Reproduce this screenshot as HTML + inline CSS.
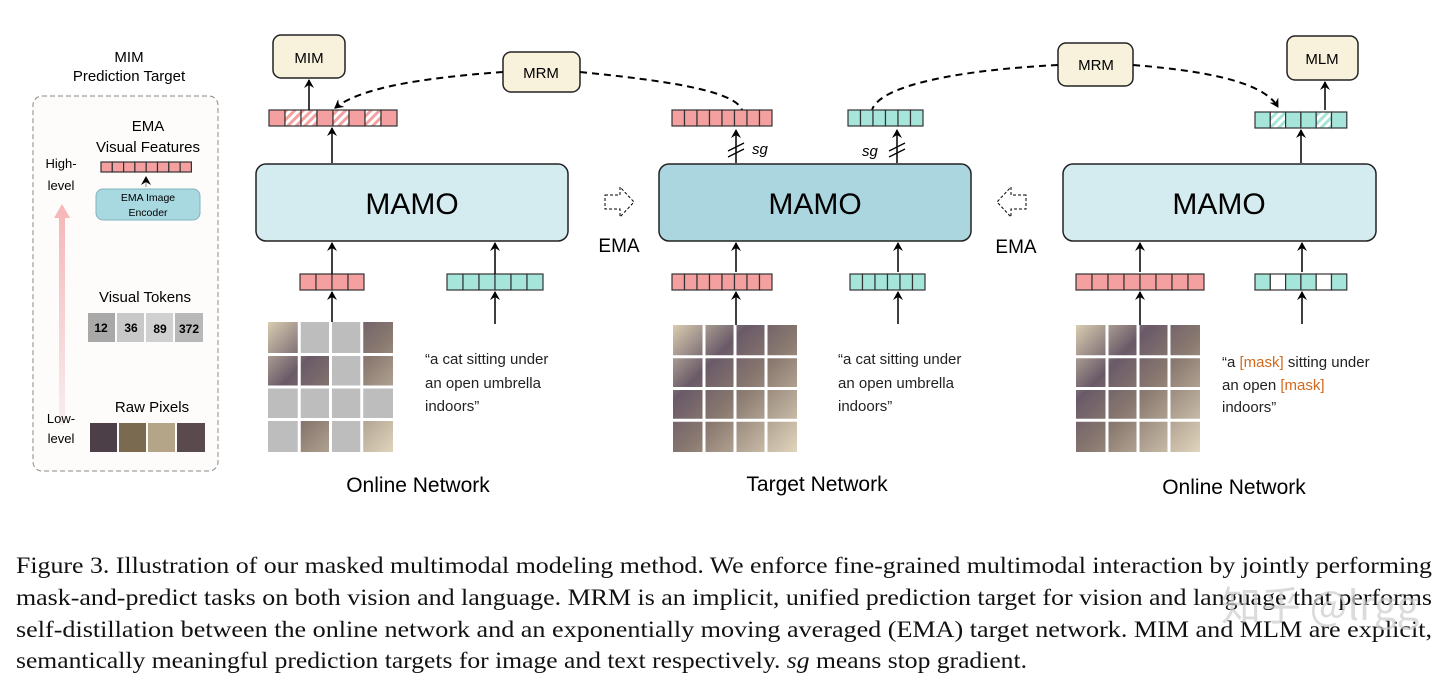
<!DOCTYPE html>
<html><head><meta charset="utf-8"><style>
html,body{margin:0;padding:0;background:#fff;}
svg{display:block;}
.s{font-family:"Liberation Sans",sans-serif;}
.cap{font-family:"Liberation Serif",serif;font-size:23px;fill:#111;}
</style></head><body>
<svg id="g" width="1440" height="682" viewBox="0 0 1440 682" xmlns="http://www.w3.org/2000/svg">
<defs>
<marker id="ah" markerWidth="10" markerHeight="10" refX="8" refY="5" orient="auto" markerUnits="userSpaceOnUse"><path d="M0,0 L9,5 L0,10 L3,5 z" fill="#000"/></marker>
<linearGradient id="up" x1="0" y1="1" x2="0" y2="0"><stop offset="0" stop-color="#f7eef0"/><stop offset="1" stop-color="#f6b8b8"/></linearGradient>
<pattern id="hat" width="6" height="6" patternUnits="userSpaceOnUse" patternTransform="rotate(45)"><rect width="6" height="6" fill="#f4a0a0"/><rect width="3" height="6" fill="#fff"/></pattern>
<pattern id="hat2" width="6" height="6" patternUnits="userSpaceOnUse" patternTransform="rotate(45)"><rect width="6" height="6" fill="#a6e6da"/><rect width="3" height="6" fill="#fff"/></pattern>
<linearGradient id="img" x1="0" y1="0" x2="1" y2="1"><stop offset="0" stop-color="#d8ccb0"/><stop offset="0.3" stop-color="#6a5a68"/><stop offset="0.55" stop-color="#8a7a70"/><stop offset="1" stop-color="#e0d4bc"/></linearGradient>
</defs>

<text class="s" x="129" y="62" font-size="15" text-anchor="middle">MIM</text>
<text class="s" x="129" y="81" font-size="15" text-anchor="middle">Prediction Target</text>
<rect x="33" y="96" width="185" height="375" rx="9" fill="#fdfcfa" stroke="#888" stroke-dasharray="5,3"/>
<text class="s" x="148" y="131" font-size="15" text-anchor="middle">EMA</text>
<text class="s" x="148" y="152" font-size="15" text-anchor="middle">Visual Features</text>
<g id="vf"></g>
<line x1="146" y1="187" x2="146" y2="177" stroke="#888" marker-end="url(#ah)"/>
<rect x="96" y="189" width="104" height="31" rx="7" fill="#a8d8e0" stroke="#7fb4c0"/>
<text class="s" x="148" y="201" font-size="10.5" text-anchor="middle">EMA Image</text>
<text class="s" x="148" y="216" font-size="10.5" text-anchor="middle">Encoder</text>
<text class="s" x="61" y="168" font-size="13" text-anchor="middle">High-</text>
<text class="s" x="61" y="190" font-size="13" text-anchor="middle">level</text>
<rect x="59" y="215" width="6" height="210" fill="url(#up)"/>
<path d="M54,218 L62,204 L70,218 z" fill="#f6b8b8"/>
<text class="s" x="61" y="423" font-size="13" text-anchor="middle">Low-</text>
<text class="s" x="61" y="443" font-size="13" text-anchor="middle">level</text>
<text class="s" x="145" y="302" font-size="15" text-anchor="middle">Visual Tokens</text>
<rect x="88" y="313" width="27" height="29" fill="#a8a8a8"/><rect x="117" y="313" width="27" height="29" fill="#c8c8c8"/><rect x="146" y="313" width="27" height="29" fill="#d0d0d0"/><rect x="175" y="313" width="28" height="29" fill="#b8b8b8"/>
<g class="s" font-size="12" font-weight="bold" text-anchor="middle"><text x="101" y="332">12</text><text x="131" y="332">36</text><text x="160" y="333">89</text><text x="189" y="333">372</text></g>
<text class="s" x="152" y="412" font-size="15" text-anchor="middle">Raw Pixels</text>
<rect x="90" y="423" width="27" height="29" fill="#4d3f48"/><rect x="119" y="423" width="27" height="29" fill="#7a6a50"/><rect x="148" y="423" width="27" height="29" fill="#b4a488"/><rect x="177" y="423" width="28" height="29" fill="#5a4a4e"/>

<rect x="273" y="35" width="72" height="43" rx="8" fill="#f8f1dc" stroke="#222" stroke-width="1.5"/>
<text class="s" x="309" y="63" font-size="15" text-anchor="middle">MIM</text>
<rect x="503" y="52" width="77" height="40" rx="8" fill="#f8f1dc" stroke="#222" stroke-width="1.5"/>
<text class="s" x="541" y="78" font-size="15" text-anchor="middle">MRM</text>
<rect x="1058" y="43" width="75" height="43" rx="8" fill="#f8f1dc" stroke="#222" stroke-width="1.5"/>
<text class="s" x="1096" y="70" font-size="15" text-anchor="middle">MRM</text>
<rect x="1287" y="36" width="71" height="44" rx="8" fill="#f8f1dc" stroke="#222" stroke-width="1.5"/>
<text class="s" x="1322" y="64" font-size="15" text-anchor="middle">MLM</text>

<rect x="256" y="164" width="312" height="77" rx="10" fill="#d4ebef" stroke="#222" stroke-width="1.5"/>
<text class="s" x="412" y="214" font-size="30" text-anchor="middle">MAMO</text>
<rect x="659" y="164" width="312" height="77" rx="10" fill="#abd6df" stroke="#222" stroke-width="1.5"/>
<text class="s" x="815" y="214" font-size="30" text-anchor="middle">MAMO</text>
<rect x="1063" y="164" width="313" height="77" rx="10" fill="#d4ebef" stroke="#222" stroke-width="1.5"/>
<text class="s" x="1219" y="214" font-size="30" text-anchor="middle">MAMO</text>

<g fill="none" stroke="#000" stroke-width="2" stroke-dasharray="7,5">
<path d="M503,72 C420,78 360,88 335,108" marker-end="url(#ah)"/>
<path d="M580,72 C660,80 735,90 742,110"/>
<path d="M1058,65 C960,70 880,85 872,110"/>
<path d="M1133,65 C1220,72 1265,85 1278,107" marker-end="url(#ah)"/>
</g>

<path d="M605,195 L620,195 L620,187 L634,202 L620,217 L620,209 L605,209 z" fill="#fff" stroke="#000" stroke-dasharray="3,2"/>
<text class="s" x="619" y="252" font-size="19" text-anchor="middle">EMA</text>
<path d="M1026,195 L1011,195 L1011,187 L997,202 L1011,217 L1011,209 L1026,209 z" fill="#fff" stroke="#000" stroke-dasharray="3,2"/>
<text class="s" x="1016" y="253" font-size="19" text-anchor="middle">EMA</text>

<g id="dyn"></g>

<g stroke="#000" stroke-width="1.5" marker-end="url(#ah)">
<line x1="309" y1="110" x2="309" y2="80"/>
<line x1="332" y1="163" x2="332" y2="128"/>
<line x1="332" y1="274" x2="332" y2="243"/>
<line x1="332" y1="322" x2="332" y2="292"/>
<line x1="495" y1="274" x2="495" y2="243"/>
<line x1="495" y1="324" x2="495" y2="292"/>
<line x1="736" y1="163" x2="736" y2="130"/>
<line x1="897" y1="163" x2="897" y2="130"/>
<line x1="736" y1="272" x2="736" y2="243"/>
<line x1="736" y1="325" x2="736" y2="292"/>
<line x1="898" y1="272" x2="898" y2="243"/>
<line x1="898" y1="324" x2="898" y2="292"/>
<line x1="1140" y1="272" x2="1140" y2="243"/>
<line x1="1140" y1="325" x2="1140" y2="292"/>
<line x1="1302" y1="272" x2="1302" y2="243"/>
<line x1="1302" y1="324" x2="1302" y2="292"/>
<line x1="1301" y1="163" x2="1301" y2="130"/>
<line x1="1325" y1="110" x2="1325" y2="82"/>
</g>
<g stroke="#000" stroke-width="1.3">
<line x1="728" y1="151" x2="744" y2="143"/><line x1="728" y1="157" x2="744" y2="149"/>
<line x1="889" y1="151" x2="905" y2="143"/><line x1="889" y1="157" x2="905" y2="149"/>
</g>
<text class="s" x="752" y="154" font-size="15" font-style="italic">sg</text>
<text class="s" x="862" y="156" font-size="15" font-style="italic">sg</text>

<g class="s" font-size="15" fill="#222">
<text x="425" y="364">“a cat sitting under</text><text x="425" y="388">an open umbrella</text><text x="425" y="411">indoors”</text>
<text x="838" y="364">“a cat sitting under</text><text x="838" y="388">an open umbrella</text><text x="838" y="411">indoors”</text>
<text x="1222" y="367">“a <tspan fill="#d2691e">[mask]</tspan> sitting under</text><text x="1222" y="390">an open <tspan fill="#d2691e">[mask]</tspan></text><text x="1222" y="412">indoors”</text>
</g>
<g class="s" font-size="21" text-anchor="middle">
<text x="418" y="492">Online Network</text>
<text x="817" y="491">Target Network</text>
<text x="1234" y="494">Online Network</text>
</g>

<text class="cap" x="16" y="573" textLength="1416" lengthAdjust="spacingAndGlyphs">Figure 3. Illustration of our masked multimodal modeling method. We enforce fine-grained multimodal interaction by jointly performing</text>
<text class="cap" x="16" y="605" textLength="1416" lengthAdjust="spacingAndGlyphs">mask-and-predict tasks on both vision and language. MRM is an implicit, unified prediction target for vision and language that performs</text>
<text class="cap" x="16" y="637" textLength="1416" lengthAdjust="spacingAndGlyphs">self-distillation between the online network and an exponentially moving averaged (EMA) target network. MIM and MLM are explicit,</text>
<text class="cap" x="16" y="668" textLength="1011" lengthAdjust="spacingAndGlyphs">semantically meaningful prediction targets for image and text respectively. <tspan font-style="italic">sg</tspan> means stop gradient.</text>
<text x="1320" y="620" font-family="'Noto Sans CJK SC',sans-serif" font-size="40" fill="#ccc" fill-opacity="0.7" text-anchor="middle">知乎 @lrgg</text>
</svg>
<script>
var NS="http://www.w3.org/2000/svg",d=document.getElementById("dyn");
function r(p,x,y,w,h,f,s,sw){var e=document.createElementNS(NS,"rect");e.setAttribute("x",x);e.setAttribute("y",y);e.setAttribute("width",w);e.setAttribute("height",h);e.setAttribute("fill",f);if(s){e.setAttribute("stroke",s);e.setAttribute("stroke-width",sw||1.2);}p.appendChild(e);}
function bar(p,x,y,n,cw,h,col,special){for(var i=0;i<n;i++){var f=col;if(special&&special[i])f=special[i];r(p,x+i*cw,y,cw,h,f,"#333",1.2);}}
var R="#f4a0a0",T="#a6e6da";
bar(document.getElementById("vf"),101,162,8,11.3,10,R);
bar(d,269,110,8,16,16,R,{1:"url(#hat)",2:"url(#hat)",4:"url(#hat)",6:"url(#hat)"});
bar(d,300,274,4,16,16,R);
bar(d,447,274,6,16,16,T);
bar(d,672,110,8,12.5,16,R);
bar(d,848,110,6,12.5,16,T);
bar(d,672,274,8,12.5,16,R);
bar(d,850,274,6,12.5,16,T);
bar(d,1255,112,6,15.3,16,T,{1:"url(#hat2)",4:"url(#hat2)"});
bar(d,1076,274,8,16,16,R);
bar(d,1255,274,6,15.3,16,T,{1:"#fff",4:"#fff"});
function grid(x,y,w,h,mask){r(d,x,y,w,h,"url(#img)");var cw=w/4,ch=h/4;for(var i=0;i<4;i++)for(var j=0;j<4;j++){if(mask&&mask[j*4+i])r(d,x+i*cw,y+j*ch,cw,ch,"#bdbdbd");}
for(var k=1;k<4;k++){r(d,x+k*cw-1.5,y,3,h,"#fff");r(d,x,y+k*ch-1.5,w,3,"#fff");}}
grid(268,322,125,130,{1:1,2:1,6:1,8:1,9:1,10:1,11:1,12:1,14:1});
grid(673,325,124,127);
grid(1076,325,124,127);
</script>
</body></html>
